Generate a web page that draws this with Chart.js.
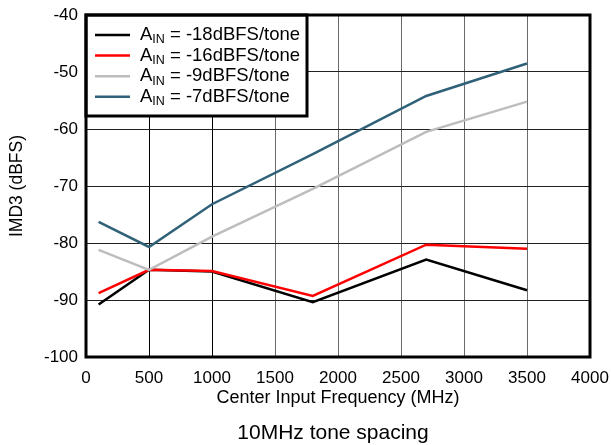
<!DOCTYPE html>
<html>
<head>
<meta charset="utf-8">
<script src="https://cdn.jsdelivr.net/npm/chart.js@4"></script>
<style>
  html, body { margin: 0; padding: 0; background: #fff; }
  #wrap { width: 611px; height: 445px; position: relative; }
</style>
</head>
<body>
<div id="wrap"><canvas id="c"></canvas></div>
<script>
// Center input frequency (MHz) and IMD3 (dBFS) per input level
var freqs    = [100, 500, 1000, 1800, 2700, 3500];
var amp18    = [-90.8, -84.7, -85.0, -90.4, -82.9, -88.3];
var amp16    = [-88.8, -84.7, -84.9, -89.3, -80.3, -81.0];
var amp9     = [-81.2, -84.7, -78.9, -70.5, -60.5, -55.2];
var amp7     = [-76.3, -80.7, -73.2, -64.4, -54.2, -48.5];
var levels   = ['-18', '-16', '-9', '-7'];
var xTicks   = [0, 500, 1000, 1500, 2000, 2500, 3000, 3500, 4000];
var yTicks   = [-100, -90, -80, -70, -60, -50, -40];
var subtitle = '10MHz tone spacing';

var FONT = '"Liberation Sans", Arial, Helvetica, sans-serif';

function pts(ys) {
  return freqs.map(function (f, i) { return { x: f, y: ys[i] }; });
}

function ds(level, ys, color, order) {
  return {
    label: 'AIN = ' + level + 'dBFS/tone',
    level: level,
    data: pts(ys),
    borderColor: color,
    backgroundColor: color,
    borderWidth: 2.5,
    pointRadius: 0,
    tension: 0,
    order: order
  };
}

// legend box drawn inside the plot, with the "IN" subscript
var legendBox = {
  id: 'legendBox',
  afterDatasetsDraw: function (chart) {
    var ctx = chart.ctx, a = chart.chartArea;
    var x0 = a.left, y0 = a.top, w = 221, h = 101;
    ctx.save();
    ctx.fillStyle = '#fff';
    ctx.fillRect(x0, y0, w, h);
    ctx.lineWidth = 3;
    ctx.strokeStyle = '#000';
    ctx.strokeRect(x0, y0, w, h);
    ctx.textBaseline = 'middle';
    chart.data.datasets.forEach(function (d, i) {
      var y = y0 + 20 + i * 20.6;
      ctx.strokeStyle = d.borderColor;
      ctx.lineWidth = 2.5;
      ctx.beginPath();
      ctx.moveTo(x0 + 9, y);
      ctx.lineTo(x0 + 44, y);
      ctx.stroke();
      ctx.fillStyle = '#000';
      var tx = x0 + 54;
      ctx.font = '18.5px ' + FONT;
      ctx.fillText('A', tx, y);
      tx += ctx.measureText('A').width;
      ctx.font = '12.5px ' + FONT;
      ctx.fillText('IN', tx, y + 5);
      tx += ctx.measureText('IN').width;
      ctx.font = '18.5px ' + FONT;
      ctx.fillText(' = ' + d.level + 'dBFS/tone', tx, y);
    });
    ctx.restore();
  }
};

// heavy frame round the plot area, plus the caption under the chart
var frame = {
  id: 'frame',
  afterDraw: function (chart) {
    var ctx = chart.ctx, a = chart.chartArea;
    ctx.save();
    ctx.lineWidth = 3;
    ctx.strokeStyle = '#000';
    ctx.strokeRect(a.left, a.top, a.right - a.left, a.bottom - a.top);
    ctx.fillStyle = '#000';
    ctx.font = '21px ' + FONT;
    ctx.textAlign = 'center';
    ctx.textBaseline = 'middle';
    ctx.fillText(subtitle, (a.left + a.right) / 2 - 5, 433);
    ctx.restore();
  }
};

new Chart(document.getElementById('c'), {
  type: 'line',
  data: {
    datasets: [
      ds(levels[0], amp18, '#000000', 4),
      ds(levels[1], amp16, '#ff0000', 3),
      ds(levels[2], amp9,  '#bdbdbd', 2),
      ds(levels[3], amp7,  '#2f6178', 1)
    ]
  },
  options: {
    responsive: true,
    maintainAspectRatio: false,
    animation: false,
    layout: { padding: { top: 15, right: 21, left: 0, bottom: 36.2 } },
    plugins: {
      legend: { display: false },
      tooltip: { enabled: false }
    },
    scales: {
      x: {
        type: 'linear',
        min: 0,
        max: 4000,
        afterBuildTicks: function (s) { s.ticks = xTicks.map(function (v) { return { value: v }; }); },
        afterFit: function (s) { s.height = 51.8; s.paddingLeft = 0; s.paddingRight = 0; },
        grid: {
          drawTicks: false,
          color: function (c) { return c.tick && c.tick.value <= 1000 ? '#000' : '#6a6a6a'; },
          lineWidth: 1
        },
        border: { display: false },
        ticks: {
          color: '#000', padding: 11, maxRotation: 0,
          font: { family: FONT, size: 17 },
          callback: function (v) { return String(v); }
        },
        title: {
          display: true,
          text: 'Center Input Frequency (MHz)',
          color: '#000',
          padding: 0,
          font: { family: FONT, size: 18 }
        }
      },
      y: {
        min: -100,
        max: -40,
        afterBuildTicks: function (s) { s.ticks = yTicks.map(function (v) { return { value: v }; }); },
        afterFit: function (s) { s.width = 86; s.paddingTop = 0; s.paddingBottom = 0; },
        grid: { drawTicks: false, color: '#222', lineWidth: 1 },
        border: { display: false },
        ticks: { color: '#000', padding: 8, font: { family: FONT, size: 17 } },
        title: {
          display: true,
          text: 'IMD3 (dBFS)',
          color: '#000',
          padding: { top: 7, bottom: 0 },
          font: { family: FONT, size: 17.5 }
        }
      }
    }
  },
  plugins: [legendBox, frame]
});
</script>
</body>
</html>
